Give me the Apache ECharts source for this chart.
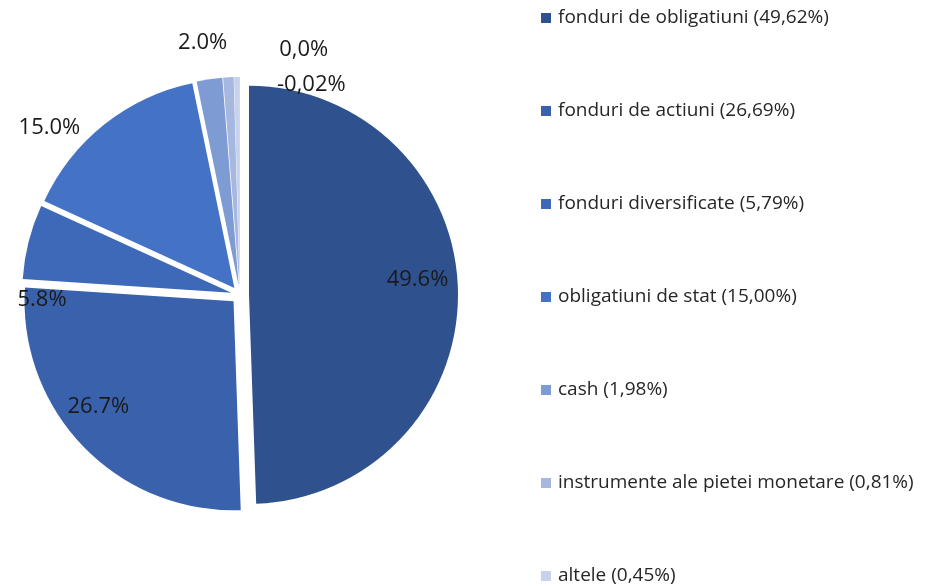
<!DOCTYPE html>
<html lang="en">
<head>
    <meta charset="UTF-8">
    <title>Pie</title>
    <style>
        html, body { margin: 0; padding: 0; background: #fff; }
        #chart { width: 925px; height: 586px; }
    </style>
</head>
<body>
    <div id="chart"></div>
    <script src="https://cdn.jsdelivr.net/npm/echarts@6/dist/echarts.min.js"></script>
    <script>
        // data
        var names = [
            'fonduri de obligatiuni (49,62%)',
            'fonduri de actiuni (26,69%)',
            'fonduri diversificate (5,79%)',
            'obligatiuni de stat (15,00%)',
            'cash (1,98%)',
            'instrumente ale pietei monetare (0,81%)',
            'altele (0,45%)'
        ]
        var values = [49.62, 26.69, 5.79, 15.00, 1.98, 0.81, 0.45]
        var labels = ['49.6%', '26.7%', '5.8%', '15.0%', '2.0%', '0,0%', '-0,02%']
        var colors = ['#2F528F', '#3A62AC', '#3E69B8', '#4472C4', '#7F9BD3', '#A6B7E0', '#C7D2EC']
        // label nudges from the default inside spot
        var labelOffsets = [[61, -13], [-58, 31], [-85, 33], [-118, -76], [-21, -137], [70, -129], [73, -94]]

        var chart = echarts.init(document.getElementById('chart'))
        var data = []
        for (var i = 0; i < values.length; i++) {
            data.push({
                name: names[i],
                value: values[i],
                selected: true,
                itemStyle: { color: colors[i] },
                label: { formatter: labels[i] }
            })
        }
        chart.setOption({
            animation: false,
            legend: {
                orient: 'vertical',
                left: 541,
                top: 8,
                padding: 0,
                itemWidth: 10,
                itemHeight: 10,
                itemGap: 73,
                icon: 'rect',
                selectedMode: false,
                textStyle: {
                    fontFamily: 'Open Sans',
                    fontSize: 19,
                    lineHeight: 20,
                    color: '#262626',
                    padding: [0, 0, 0, 2]
                },
                data: names
            },
            series: [{
                type: 'pie',
                center: [240, 295],
                radius: 209,
                startAngle: 90,
                clockwise: true,
                selectedMode: 'multiple',
                selectedOffset: 9,
                avoidLabelOverlap: false,
                itemStyle: { borderWidth: 0 },
                label: {
                    position: 'inside',
                    fontFamily: 'Open Sans',
                    fontSize: 22,
                    color: '#1a1a1a'
                },
                labelLine: { show: false },
                labelLayout: function (p) {
                    return { dx: labelOffsets[p.dataIndex][0], dy: labelOffsets[p.dataIndex][1] }
                },
                emphasis: { disabled: true },
                select: { itemStyle: { borderWidth: 0 } },
                data: data
            }]
        })
    </script>
</body>
</html>
